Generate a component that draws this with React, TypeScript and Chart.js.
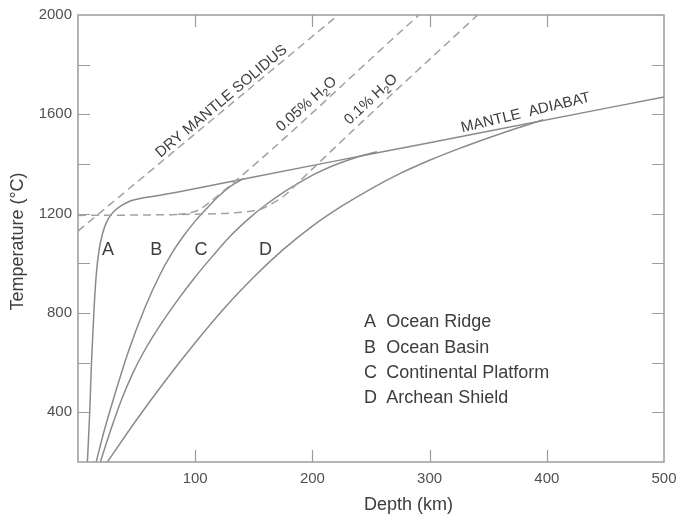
import React, { useEffect, useRef } from 'react';
import { Chart, registerables } from 'chart.js';

Chart.register(...registerables);

// ---- axes ----
const depthMin = 0;
const depthMax = 500;
const depthStep = 100;
const tempMin = 200;
const tempMax = 2000;
const tempStep = 200;
const tempLabelEvery = 400;

// ---- geotherms (solid) ----
// A: Ocean Ridge, continuing as the mantle adiabat
const aDepth = [8, 10, 11.5, 13.5, 15.5, 18, 21, 24, 28, 32, 38, 45, 55, 65, 150, 250, 350, 450, 500];
const aTemp = [200, 400, 600, 800, 950, 1054, 1120, 1162, 1195, 1215, 1235, 1252, 1263, 1270, 1348, 1440, 1532, 1624, 1670];
// B: Ocean Basin
const bDepth = [15.5, 22, 30, 43, 57, 70, 80, 90, 100, 110, 120, 130, 141];
const bTemp = [200, 320, 450, 645, 820, 955, 1040, 1110, 1170, 1222, 1270, 1310, 1341];
// C: Continental Platform
const cDepth = [19, 28, 37, 47, 57, 70, 85, 100, 115, 130, 147, 160, 175, 190, 204, 218, 232, 245, 255];
const cTemp = [200, 330, 450, 560, 651, 750, 852, 945, 1030, 1110, 1185, 1235, 1285, 1328, 1364, 1394, 1418, 1437, 1449];
// D: Archean Shield
const dDepth = [25, 50, 75, 100, 125, 150, 175, 200, 225, 250, 275, 300, 325, 350, 375, 397];
const dTemp = [200, 370, 530, 680, 820, 945, 1055, 1150, 1230, 1300, 1362, 1415, 1462, 1505, 1545, 1578];

// ---- solidi (dashed) ----
const dryDepth = [0, 222];
const dryTemp = [1130, 2000];
const wet005Depth = [85, 95, 103, 112, 291];
const wet005Temp = [1197, 1203, 1215, 1245, 2000];
const wet01Depth = [0, 40, 80, 110, 135, 150, 158, 166, 176, 190, 204, 235, 341];
const wet01Temp = [1193, 1194, 1196, 1199, 1204, 1212, 1222, 1242, 1272, 1335, 1398, 1537, 2000];

// ---- annotations ----
const curveLetters = ['A', 'B', 'C', 'D'];
const curveLetterDepth = [25.6, 66.7, 105, 160];
const curveLetterTemp = 1052;

const legendLetters = ['A', 'B', 'C', 'D'];
const legendNames = ['Ocean Ridge', 'Ocean Basin', 'Continental Platform', 'Archean Shield'];
const legendLetterDepth = 244;
const legendNameDepth = 263;
const legendTemps = [764, 660, 558, 458];

type Part = { t: string; sub?: boolean };
const lineLabels: { parts: Part[]; depth: number; temp: number; angle: number; size: number }[] = [
  { parts: [{ t: 'DRY MANTLE SOLIDUS' }], depth: 122.5, temp: 1652, angle: -40, size: 15 },
  { parts: [{ t: '0.05% H' }, { t: '2', sub: true }, { t: 'O' }], depth: 195, temp: 1640, angle: -41.5, size: 15 },
  { parts: [{ t: '0.1% H' }, { t: '2', sub: true }, { t: 'O' }], depth: 250, temp: 1660, angle: -43, size: 15 },
  { parts: [{ t: 'MANTLE  ADIABAT' }], depth: 382, temp: 1606, angle: -13.5, size: 15 },
];

const xTitle = 'Depth (km)';
const yTitle = 'Temperature (°C)';

const FONT = '"Liberation Sans", Arial, Helvetica, sans-serif';
const SOLID = '#8a8a8a';
const DASH = '#a2a2a2';
const TEXT = '#3d3d3d';

const pts = (xs: number[], ys: number[]) => xs.map((x, i) => ({ x, y: ys[i] }));

function drawRich(ctx: CanvasRenderingContext2D, parts: Part[], cx: number, cy: number, angleDeg: number, size: number) {
  ctx.save();
  ctx.translate(cx, cy);
  ctx.rotate((angleDeg * Math.PI) / 180);
  ctx.textBaseline = 'middle';
  ctx.textAlign = 'left';
  const widths = parts.map((p) => {
    ctx.font = `${p.sub ? size * 0.7 : size}px ${FONT}`;
    return ctx.measureText(p.t).width;
  });
  const total = widths.reduce((a, b) => a + b, 0);
  let xx = -total / 2;
  parts.forEach((p, i) => {
    ctx.font = `${p.sub ? size * 0.7 : size}px ${FONT}`;
    ctx.fillText(p.t, xx, p.sub ? size * 0.32 : 0);
    xx += widths[i];
  });
  ctx.restore();
}

const overlay = {
  id: 'overlay',
  afterDraw(chart: any) {
    const { ctx, chartArea: ca } = chart;
    const x = chart.scales.x;
    const y = chart.scales.y;
    ctx.save();
    // frame
    ctx.strokeStyle = '#9c9c9c';
    ctx.lineWidth = 1.5;
    ctx.strokeRect(ca.left, ca.top, ca.right - ca.left, ca.bottom - ca.top);
    // inward ticks
    ctx.lineWidth = 1.2;
    const tl = 12;
    ctx.beginPath();
    y.ticks.forEach((t: any) => {
      if (t.value <= tempMin || t.value >= tempMax) return;
      const py = Math.round(y.getPixelForValue(t.value)) + 0.5;
      ctx.moveTo(ca.left, py);
      ctx.lineTo(ca.left + tl, py);
      ctx.moveTo(ca.right, py);
      ctx.lineTo(ca.right - tl, py);
    });
    x.ticks.forEach((t: any) => {
      if (t.value <= depthMin || t.value >= depthMax) return;
      const px = Math.round(x.getPixelForValue(t.value)) + 0.5;
      ctx.moveTo(px, ca.bottom);
      ctx.lineTo(px, ca.bottom - tl);
      ctx.moveTo(px, ca.top);
      ctx.lineTo(px, ca.top + tl);
    });
    ctx.stroke();

    ctx.fillStyle = TEXT;
    // curve letters
    ctx.font = `18px ${FONT}`;
    ctx.textAlign = 'center';
    ctx.textBaseline = 'middle';
    curveLetters.forEach((l, i) => {
      ctx.fillText(l, x.getPixelForValue(curveLetterDepth[i]), y.getPixelForValue(curveLetterTemp));
    });
    // legend
    ctx.textAlign = 'left';
    legendLetters.forEach((l, i) => {
      const py = y.getPixelForValue(legendTemps[i]);
      ctx.fillText(l, x.getPixelForValue(legendLetterDepth), py);
      ctx.fillText(legendNames[i], x.getPixelForValue(legendNameDepth), py);
    });
    // line labels
    lineLabels.forEach((lb) => {
      drawRich(ctx, lb.parts, x.getPixelForValue(lb.depth), y.getPixelForValue(lb.temp), lb.angle, lb.size);
    });
    // axis titles
    ctx.font = `18px ${FONT}`;
    ctx.textAlign = 'center';
    ctx.textBaseline = 'middle';
    ctx.fillText(xTitle, x.getPixelForValue(282), 505);
    ctx.save();
    ctx.translate(18, (ca.top + ca.bottom) / 2 + 3);
    ctx.rotate(-Math.PI / 2);
    ctx.fillText(yTitle, 0, 0);
    ctx.restore();
    ctx.restore();
  },
};

export default function App() {
  const ref = useRef<HTMLCanvasElement>(null);
  useEffect(() => {
    document.body.style.margin = '0';
    Chart.defaults.font.family = FONT;
    const solid = (data: any[]) => ({
      data,
      showLine: true,
      borderColor: SOLID,
      borderWidth: 1.5,
      pointRadius: 0,
      cubicInterpolationMode: 'monotone' as const,
      fill: false,
    });
    const dashed = (data: any[]) => ({
      data,
      showLine: true,
      borderColor: DASH,
      borderWidth: 1.5,
      borderDash: [8, 5],
      pointRadius: 0,
      cubicInterpolationMode: 'monotone' as const,
      fill: false,
    });
    const chart = new Chart(ref.current!, {
      type: 'scatter',
      data: {
        datasets: [
          dashed(pts(dryDepth, dryTemp)),
          dashed(pts(wet005Depth, wet005Temp)),
          dashed(pts(wet01Depth, wet01Temp)),
          solid(pts(aDepth, aTemp)),
          solid(pts(bDepth, bTemp)),
          solid(pts(cDepth, cTemp)),
          solid(pts(dDepth, dTemp)),
        ],
      },
      options: {
        responsive: false,
        animation: false,
        events: [],
        layout: { padding: { top: 15, right: 13, left: 0, bottom: 0 } },
        plugins: { legend: { display: false }, tooltip: { enabled: false }, title: { display: false } },
        scales: {
          x: {
            type: 'linear',
            min: depthMin,
            max: depthMax,
            grid: { display: false, drawTicks: false },
            border: { display: false },
            ticks: {
              stepSize: depthStep,
              padding: 8,
              color: '#505050',
              font: { size: 15, family: FONT },
              maxRotation: 0,
              callback: (v: any) => (v === depthMin ? '' : String(v)),
            },
            afterFit: (s: any) => {
              s.height = 54;
              s.paddingLeft = 0;
              s.paddingRight = 0;
            },
          },
          y: {
            type: 'linear',
            min: tempMin,
            max: tempMax,
            grid: { display: false, drawTicks: false },
            border: { display: false },
            ticks: {
              stepSize: tempStep,
              padding: 6,
              color: '#505050',
              font: { size: 15, family: FONT },
              callback: (v: any) => (v % tempLabelEvery === 0 ? String(v) : ''),
            },
            afterFit: (s: any) => {
              s.width = 78;
              s.paddingTop = 0;
              s.paddingBottom = 0;
            },
          },
        },
      },
      plugins: [overlay],
    });
    return () => chart.destroy();
  }, []);
  return (
    <div style={{ width: 677, height: 516, background: '#fff' }}>
      <canvas ref={ref} width={677} height={516} style={{ display: 'block' }} />
    </div>
  );
}
